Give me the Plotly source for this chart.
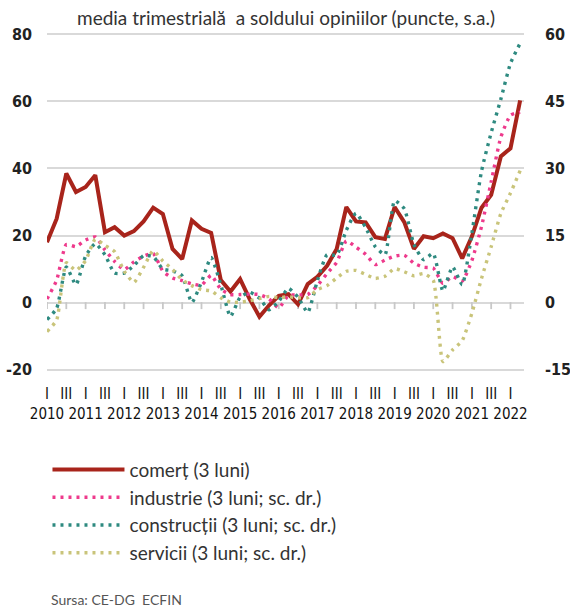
import plotly.graph_objects as go

# quarterly observations, 2010 T1 .. 2022 T2
years = list(range(2010, 2023))
quarters = [f"{y} T{q}" for y in years for q in (1, 2, 3, 4)][:50]

# left axis
comert = [18, 25, 38.5, 33, 34.5, 38, 21, 22.5, 20, 21.3,
          24.2, 28.3, 26.4, 16, 13, 24.5, 22, 20.8, 6.7, 3.3,
          7, 1, -4.2, -0.8, 2, 2.5, -0.5, 5.5, 7.7, 11,
          16, 28.5, 24.2, 23.9, 19.5, 19, 28.5, 24, 16, 19.8,
          19.2, 20.6, 19.2, 13.2, 19.7, 28.3, 32.1, 43.6, 46, 60.3]
# right axis (sc. dr.)
industrie = [0.8, 5, 13, 12.5, 14, 14.7, 11.8, 9.2, 7.4, 9.1,
             10.4, 11, 7, 5.5, 4.9, 4.2, 3.9, 6.1, 3, 1.8,
             1.8, 1.9, 1.8, 0.8, -1.2, 1.6, 1.7, 1.8, 3.8, 6.5,
             9, 13.8, 12.4, 10.8, 8.5, 9.5, 10.4, 10.6, 8.8, 7.9,
             7.7, 4.3, 5.8, 4.8, 9.4, 17, 27, 37, 41.9, 42.6]
constructii = [-3.8, -1.3, 8, 4, 10.4, 13.2, 10.7, 6.6, 6.6, 8.3,
               10.5, 10.3, 7.5, 7.1, 6, 0, 4.6, 10.1, 4, -3.1,
               1.2, 2.3, 1, -1.6, 0.3, 3.2, 1.2, -2.2, 4.9, 10.7,
               10.6, 16.2, 20, 16.8, 12.5, 10.7, 22.8, 21, 13, 9.6,
               11, 2.6, 8, 4, 15.5, 29.4, 38, 45.5, 53.5, 58]
servicii = [-6.5, -3.9, 8.9, 7.2, 9.4, 14.2, 12.8, 11.4, 7, 4.5,
            7.9, 11.6, 9.3, 7.4, 5.1, 3.8, 2.9, 2.6, 1.1, 0.1,
            0.1, 0.4, 0.9, 1.4, 1.1, 1.3, 1.1, 1.1, 2.9, 3.8,
            5.5, 7, 7.2, 6.3, 5.4, 5.9, 7.6, 6.9, 6, 6.5,
            5, -13.2, -10.6, -8.5, -2.4, 5.4, 12.5, 19.9, 24.5, 29.5]

left_ticks = [-20, 0, 20, 40, 60, 80]
right_ticks = [-15, 0, 15, 30, 45, 60]

names = ["comerț (3 luni)", "industrie (3 luni; sc. dr.)",
         "construcții (3 luni; sc. dr.)", "servicii (3 luni; sc. dr.)"]
colors = ["#A8241B", "#EE3A8C", "#2E8A80", "#C9C47A"]

x = list(range(len(quarters)))
tick_vals = x[::2]
tick_text = [("I<br>" + quarters[i][:4]) if i % 4 == 0 else "III" for i in tick_vals]

cond = "DejaVu Sans Condensed, Liberation Sans Narrow, sans-serif"
txt = "Lato, Open Sans, sans-serif"

pad = 0.4  # keeps the -20 / 80 grid lines inside the plot area
yl = [left_ticks[0] - pad, left_ticks[-1] + pad]
yr = [v * 0.75 for v in yl]

fig = go.Figure()
# small half-year tick marks hanging below the zero line
fig.add_trace(go.Scatter(x=tick_vals, y=[-0.9] * len(tick_vals), mode="markers",
                         marker=dict(symbol="line-ns", size=5,
                                     line=dict(color="#c8c8c8", width=1.8)),
                         showlegend=False, hoverinfo="skip"))
fig.add_trace(go.Scatter(x=x, y=comert, name=names[0], mode="lines",
                         line=dict(color=colors[0], width=4), legendgroup="a"))
for k, (vals, g) in enumerate([(industrie, "b"), (constructii, "c"), (servicii, "d")], start=1):
    fig.add_trace(go.Scatter(x=x, y=vals, name=names[k], mode="lines", yaxis="y2",
                             line=dict(color=colors[k], width=3.4, dash="3px,5px",
                                       shape="spline", smoothing=0.5),
                             legendgroup=g))

fig.update_layout(
    width=570, height=608,
    margin=dict(l=47, r=46, t=33, b=237),
    paper_bgcolor="white", plot_bgcolor="white",
    showlegend=True,
    legend=dict(x=0.001, y=-0.236, xanchor="left", yanchor="top",
                font=dict(family=txt, size=19, color="#333"),
                itemwidth=72, tracegroupgap=0, bgcolor="rgba(0,0,0,0)"),
    xaxis=dict(range=[0, 49.4], tickvals=tick_vals, ticktext=tick_text,
               tickangle=0, showgrid=False, zeroline=False, showline=False, ticks="",
               ticklabelstandoff=12, automargin=False,
               tickfont=dict(family=cond, size=15, color="#111")),
    yaxis=dict(range=yl, tickvals=left_ticks,
               ticktext=[str(v) for v in left_ticks],
               showgrid=True, gridcolor="#d9d9d9", automargin=False,
               gridwidth=2, zeroline=False, showline=False, ticks="",
               ticklabelstandoff=14,
               tickfont=dict(family=cond, size=16, color="#222", weight="bold")),
    yaxis2=dict(range=yr, tickvals=right_ticks, automargin=False,
                ticktext=[str(v) for v in right_ticks], overlaying="y", side="right",
                showgrid=False, zeroline=False, showline=False, ticks="",
                ticklabelstandoff=20,
                tickfont=dict(family=cond, size=16, color="#222", weight="bold")),
    annotations=[
        dict(text="media trimestrială\u00a0 a soldului opiniilor (puncte, s.a.)",
             x=0.5, y=1, xref="paper", yref="paper", xanchor="center",
             yanchor="bottom", yshift=2, showarrow=False,
             font=dict(family=txt, size=19, color="#333")),
        dict(text="Sursa: CE-DG\u00a0 ECFIN", x=0.005, y=-0.675, xref="paper",
             yref="paper", xanchor="left", yanchor="middle", showarrow=False,
             font=dict(family=txt, size=14, color="#555")),
    ],
)

fig.write_html("out.html", config={"displayModeBar": False},
               post_script="document.body.style.margin='0';")
